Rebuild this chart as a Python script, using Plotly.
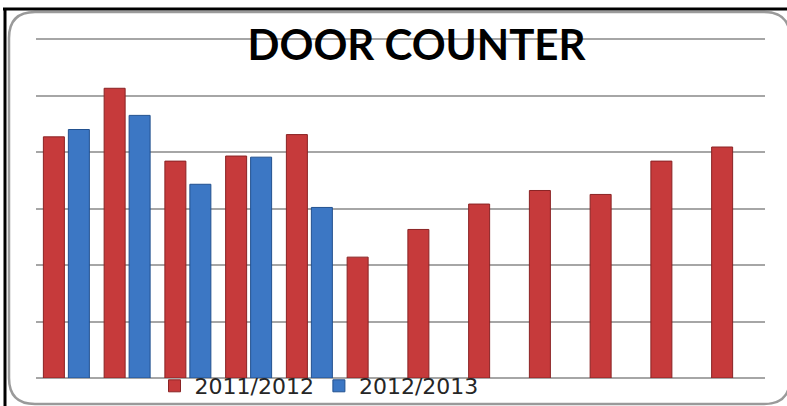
import plotly.graph_objects as go

categories = ["Sep", "Oct", "Nov", "Dec", "Jan", "Feb", "Mar", "Apr", "May", "Jun", "Jul", "Aug"]
visits_2011_2012 = [4270, 5130, 3840, 3930, 4310, 2140, 2630, 3080, 3320, 3250, 3840, 4090]
visits_2012_2013 = [4400, 4650, 3430, 3910, 3020, None, None, None, None, None, None, None]
series_names = ["2011/2012", "2012/2013"]

W, H = 787, 406
ML, MR, MT, MB = 36, 22, 38, 28
PW, PH = W - ML - MR, H - MT - MB


def px(x):
    return (x - ML) / PW


def py(y):
    return (H - MB - y) / PH


fig = go.Figure()
fig.add_trace(go.Bar(x=categories, y=visits_2011_2012, name=series_names[0],
                     marker=dict(color="#C63A3B", line=dict(color="#8A2324", width=1))))
fig.add_trace(go.Bar(x=categories, y=visits_2012_2013, name=series_names[1],
                     marker=dict(color="#3C77C4", line=dict(color="#22518F", width=1))))

# frame: screenshot black edges and rounded grey border
shapes = []
shapes.append(dict(type="line", xref="paper", yref="paper", x0=px(3), x1=px(790), y0=py(9), y1=py(9),
                   line=dict(color="black", width=3), layer="above"))
shapes.append(dict(type="line", xref="paper", yref="paper", x0=px(5), x1=px(5), y0=py(8), y1=py(410),
                   line=dict(color="black", width=3), layer="above"))
L, T, R, B, r = 9, 12, 790, 404, 26
path = (f"M {px(L + r)},{py(T)} L {px(R - r)},{py(T)} Q {px(R)},{py(T)} {px(R)},{py(T + r)} "
        f"L {px(R)},{py(B - r)} Q {px(R)},{py(B)} {px(R - r)},{py(B)} "
        f"L {px(L + r)},{py(B)} Q {px(L)},{py(B)} {px(L)},{py(B - r)} "
        f"L {px(L)},{py(T + r)} Q {px(L)},{py(T)} {px(L + r)},{py(T)} Z")
shapes.append(dict(type="path", xref="paper", yref="paper", path=path,
                   line=dict(color="#9A9A9A", width=2.5), layer="below"))

fig.update_layout(
    width=W, height=H,
    margin=dict(l=ML, r=MR, t=MT, b=MB, autoexpand=False),
    paper_bgcolor="white", plot_bgcolor="white",
    barmode="group", bargap=0.177, bargroupgap=0.16,
    shapes=shapes,
    title=dict(text="<b>DOOR COUNTER</b>", x=416.5 / W, xref="container", xanchor="center",
               y=1 - 45 / H, yref="container", yanchor="middle",
               font=dict(family="Lato, sans-serif", size=42, color="black")),
    showlegend=True,
    legend=dict(orientation="h", x=px(319), xanchor="center", y=py(386), yanchor="middle",
                bgcolor="rgba(0,0,0,0)", font=dict(family="DejaVu Sans", size=22, color="#262626"),
                itemwidth=30, traceorder="normal"),
    xaxis=dict(showticklabels=False, showgrid=False, zeroline=False, showline=False, ticks=""),
    yaxis=dict(range=[0, 6020], tickvals=[1000, 2000, 3000, 4000, 5000, 6000],
               showticklabels=False, showgrid=True,
               gridcolor="#A6A6A6", gridwidth=1.5, zeroline=True, zerolinecolor="#A6A6A6",
               zerolinewidth=1.5, ticks=""),
)

fig.write_html("out.html")
